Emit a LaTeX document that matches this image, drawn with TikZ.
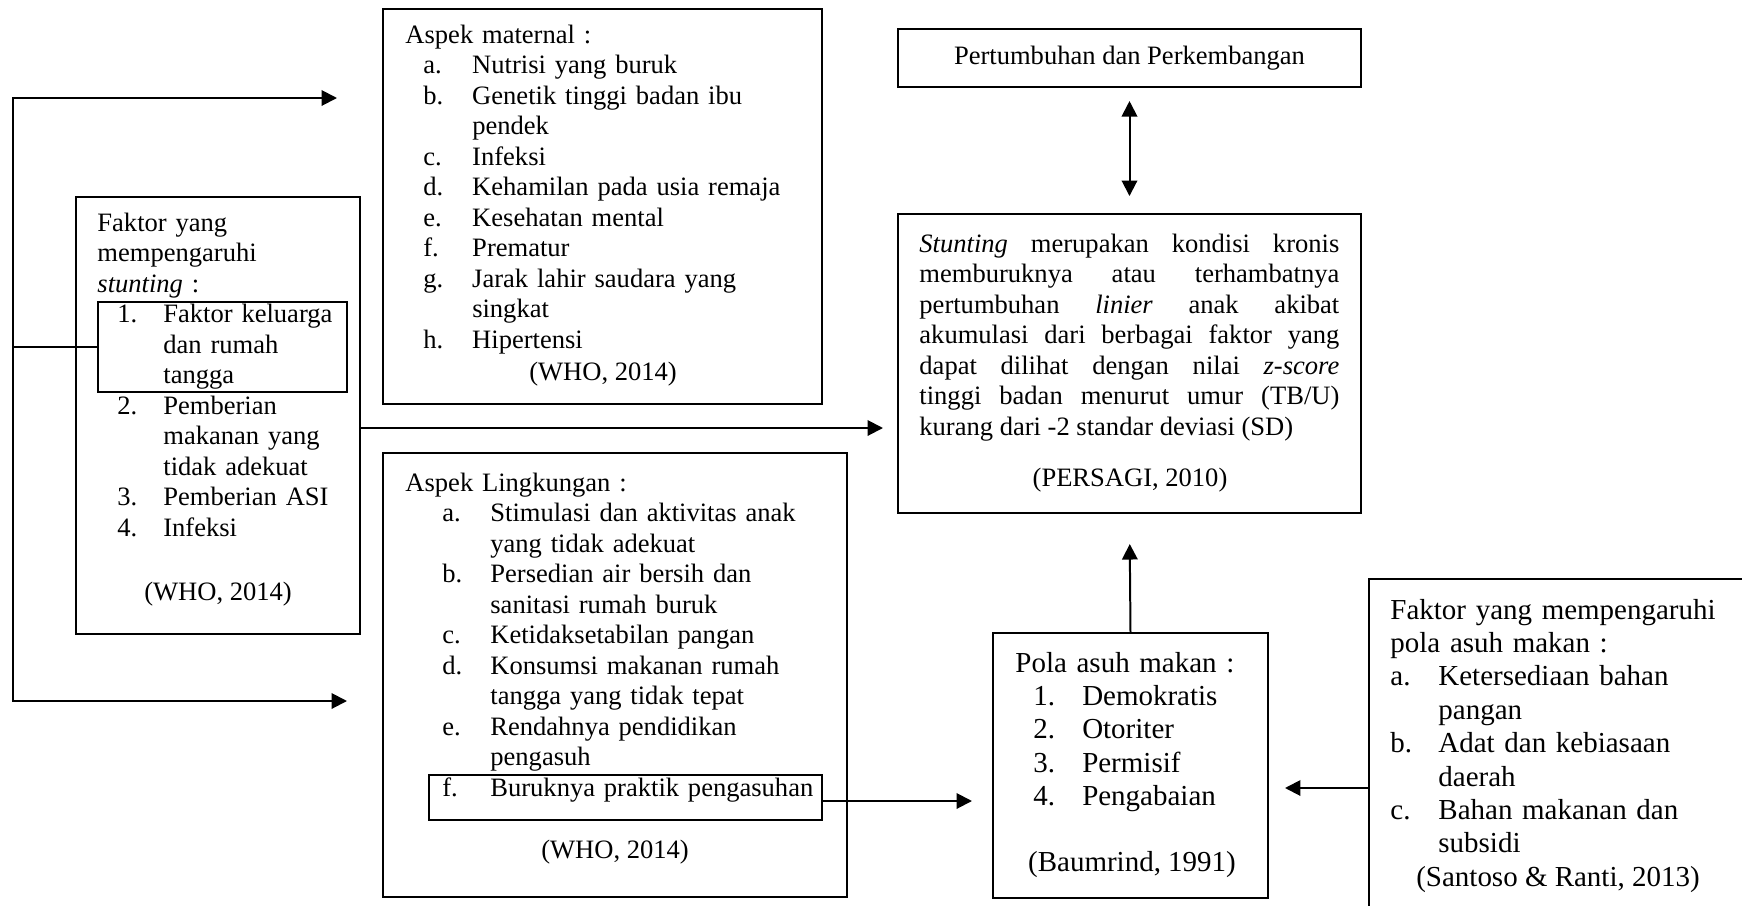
\documentclass[tikz,border=0pt]{standalone}
\usepackage{fontspec}
\setmainfont{Liberation Serif}
\usetikzlibrary{arrows.meta}

\tikzset{
  kotak/.style={draw, line width=0.9pt, inner sep=0pt},
  isi/.style={anchor=base west, inner sep=0pt, text width=#1, align=left,
    font=\fontsize{12}{13.8}\selectfont},
  isibesar/.style={anchor=base west, inner sep=0pt, text width=#1, align=left,
    font=\fontsize{13.1}{15.1}\selectfont},
  sumber/.style={anchor=base, inner sep=0pt, font=\fontsize{12}{13.8}\selectfont},
  panah/.style={line width=0.9pt, -{Triangle[length=7pt,width=7pt]}},
  garis/.style={line width=0.9pt}
}
\newcommand{\lbl}[2]{\makebox[#1][l]{#2}}

\begin{document}
\begin{tikzpicture}[x=0.452pt,y=-0.452pt]
\useasboundingbox (0,0) rectangle (1742,906);
\clip (0,0) rectangle (1742,906);

% kotak-kotak
\node[kotak, minimum width=128.4pt, minimum height=197.5pt] (faktor) at (218,415.5) {};
\node[kotak, minimum width=112.5pt, minimum height=40.7pt] (keluarga) at (222.5,347) {};
\node[kotak, minimum width=198.4pt, minimum height=178.5pt] (maternal) at (602.5,206.5) {};
\node[kotak, minimum width=209.7pt, minimum height=200.7pt] (lingkungan) at (615,675) {};
\node[kotak, minimum width=177.6pt, minimum height=20.3pt] (asuhan) at (625.5,797.5) {};
\node[kotak, minimum width=209.3pt, minimum height=26.2pt,
  font=\fontsize{12}{13.8}\selectfont] (tumbuh) at (1129.5,58) {Pertumbuhan dan Perkembangan};
\node[kotak, minimum width=209.3pt, minimum height=135.1pt] (stunting) at (1129.5,363.5) {};
\node[kotak, minimum width=124.3pt, minimum height=119.8pt] (pola) at (1130.5,765.5) {};
\node[kotak, minimum width=185.8pt, minimum height=167.7pt] (faktorPola) at (1574.5,764.5) {};

% isi kotak
\node[isi=120pt] (faktorIsi) at (97,231) {Faktor yang\\
mempengaruhi\\
\textit{stunting} :\\
\hspace*{9pt}\lbl{20.8pt}{1.}Faktor keluarga\\
\hspace*{29.8pt}dan rumah\\
\hspace*{29.8pt}tangga\\
\hspace*{9pt}\lbl{20.8pt}{2.}Pemberian\\
\hspace*{29.8pt}makanan yang\\
\hspace*{29.8pt}tidak adekuat\\
\hspace*{9pt}\lbl{20.8pt}{3.}Pemberian ASI\\
\hspace*{9pt}\lbl{20.8pt}{4.}Infeksi};
\node[sumber] (faktorSumber) at (218,600) {(WHO, 2014)};

\node[isi=200pt] (maternalIsi) at (405,43) {Aspek maternal :\\
\hspace*{8.1pt}\lbl{22.1pt}{a.}Nutrisi yang buruk\\
\hspace*{8.1pt}\lbl{22.1pt}{b.}Genetik tinggi badan ibu\\
\hspace*{30.2pt}pendek\\
\hspace*{8.1pt}\lbl{22.1pt}{c.}Infeksi\\
\hspace*{8.1pt}\lbl{22.1pt}{d.}Kehamilan pada usia remaja\\
\hspace*{8.1pt}\lbl{22.1pt}{e.}Kesehatan mental\\
\hspace*{8.1pt}\lbl{22.1pt}{f.}Prematur\\
\hspace*{8.1pt}\lbl{22.1pt}{g.}Jarak lahir saudara yang\\
\hspace*{30.2pt}singkat\\
\hspace*{8.1pt}\lbl{22.1pt}{h.}Hipertensi};
\node[sumber] (maternalSumber) at (603,380) {(WHO, 2014)};

\node[isi=200pt] (lingkunganIsi) at (405,491) {Aspek Lingkungan :\\
\hspace*{16.7pt}\lbl{21.7pt}{a.}Stimulasi dan aktivitas anak\\
\hspace*{38.4pt}yang tidak adekuat\\
\hspace*{16.7pt}\lbl{21.7pt}{b.}Persedian air bersih dan\\
\hspace*{38.4pt}sanitasi rumah buruk\\
\hspace*{16.7pt}\lbl{21.7pt}{c.}Ketidaksetabilan pangan\\
\hspace*{16.7pt}\lbl{21.7pt}{d.}Konsumsi makanan rumah\\
\hspace*{38.4pt}tangga yang tidak tepat\\
\hspace*{16.7pt}\lbl{21.7pt}{e.}Rendahnya pendidikan\\
\hspace*{38.4pt}pengasuh\\
\hspace*{16.7pt}\lbl{21.7pt}{f.}Buruknya praktik pengasuhan};
\node[sumber] (lingkunganSumber) at (615,858) {(WHO, 2014)};

\node[isi=189.8pt, align=justify] (stuntingIsi) at (919,252) {\textit{Stunting} merupakan kondisi kronis\linebreak
memburuknya atau terhambatnya\linebreak
pertumbuhan \textit{linier} anak akibat\linebreak
akumulasi dari berbagai faktor yang\linebreak
dapat dilihat dengan nilai \textit{z-score}\linebreak
tinggi badan menurut umur (TB/U)\linebreak
kurang dari -2 standar deviasi (SD)};
\node[sumber] (stuntingSumber) at (1130,486) {(PERSAGI, 2010)};

\node[isibesar=120pt] (polaIsi) at (1015,672) {Pola asuh makan :\\
\hspace*{8.1pt}\lbl{22.1pt}{1.}Demokratis\\
\hspace*{8.1pt}\lbl{22.1pt}{2.}Otoriter\\
\hspace*{8.1pt}\lbl{22.1pt}{3.}Permisif\\
\hspace*{8.1pt}\lbl{22.1pt}{4.}Pengabaian};
\node[sumber, font=\fontsize{13.1}{15.1}\selectfont] (polaSumber) at (1132,871) {(Baumrind, 1991)};

\node[isibesar=170pt] (kananIsi) at (1390,619) {Faktor yang mempengaruhi\\
pola asuh makan :\\
\lbl{21.7pt}{a.}Ketersediaan bahan\\
\hspace*{21.7pt}pangan\\
\lbl{21.7pt}{b.}Adat dan kebiasaan\\
\hspace*{21.7pt}daerah\\
\lbl{21.7pt}{c.}Bahan makanan dan\\
\hspace*{21.7pt}subsidi};
\node[sumber, font=\fontsize{13.1}{15.1}\selectfont] (kananSumber) at (1558,886) {(Santoso \& Ranti, 2013)};

% penghubung
\coordinate (kiriAtas) at (13,98);
\coordinate (kiriBawah) at (13,701);
\coordinate (keMaternal) at (337,98);
\coordinate (keLingkungan) at (347,701);
\coordinate (keStunting) at (883,428);
\coordinate (kePola) at (972,801);
\coordinate (kePolaKanan) at (1285,788);

\draw[line width=0.9pt, {Triangle[length=7pt,width=7pt]}-{Triangle[length=7pt,width=7pt]}]
  (keLingkungan) -- (kiriBawah) -- (kiriAtas) -- (keMaternal);
\draw[garis] (keluarga.west) -- (keluarga.west -| kiriAtas);
\draw[panah] (faktor.east |- keStunting) -- (keStunting);
\draw[line width=0.9pt, {Triangle[length=7pt,width=7pt]}-{Triangle[length=7pt,width=7pt]},
  shorten <=5.9pt, shorten >=7.7pt] (tumbuh.south) -- (stunting.north);
\draw[panah, shorten >=13.6pt] (pola.north) -- (stunting.south);
\draw[panah] (asuhan.east |- kePola) -- (kePola);
\draw[panah] (faktorPola.west |- kePolaKanan) -- (kePolaKanan);
\end{tikzpicture}
\end{document}
